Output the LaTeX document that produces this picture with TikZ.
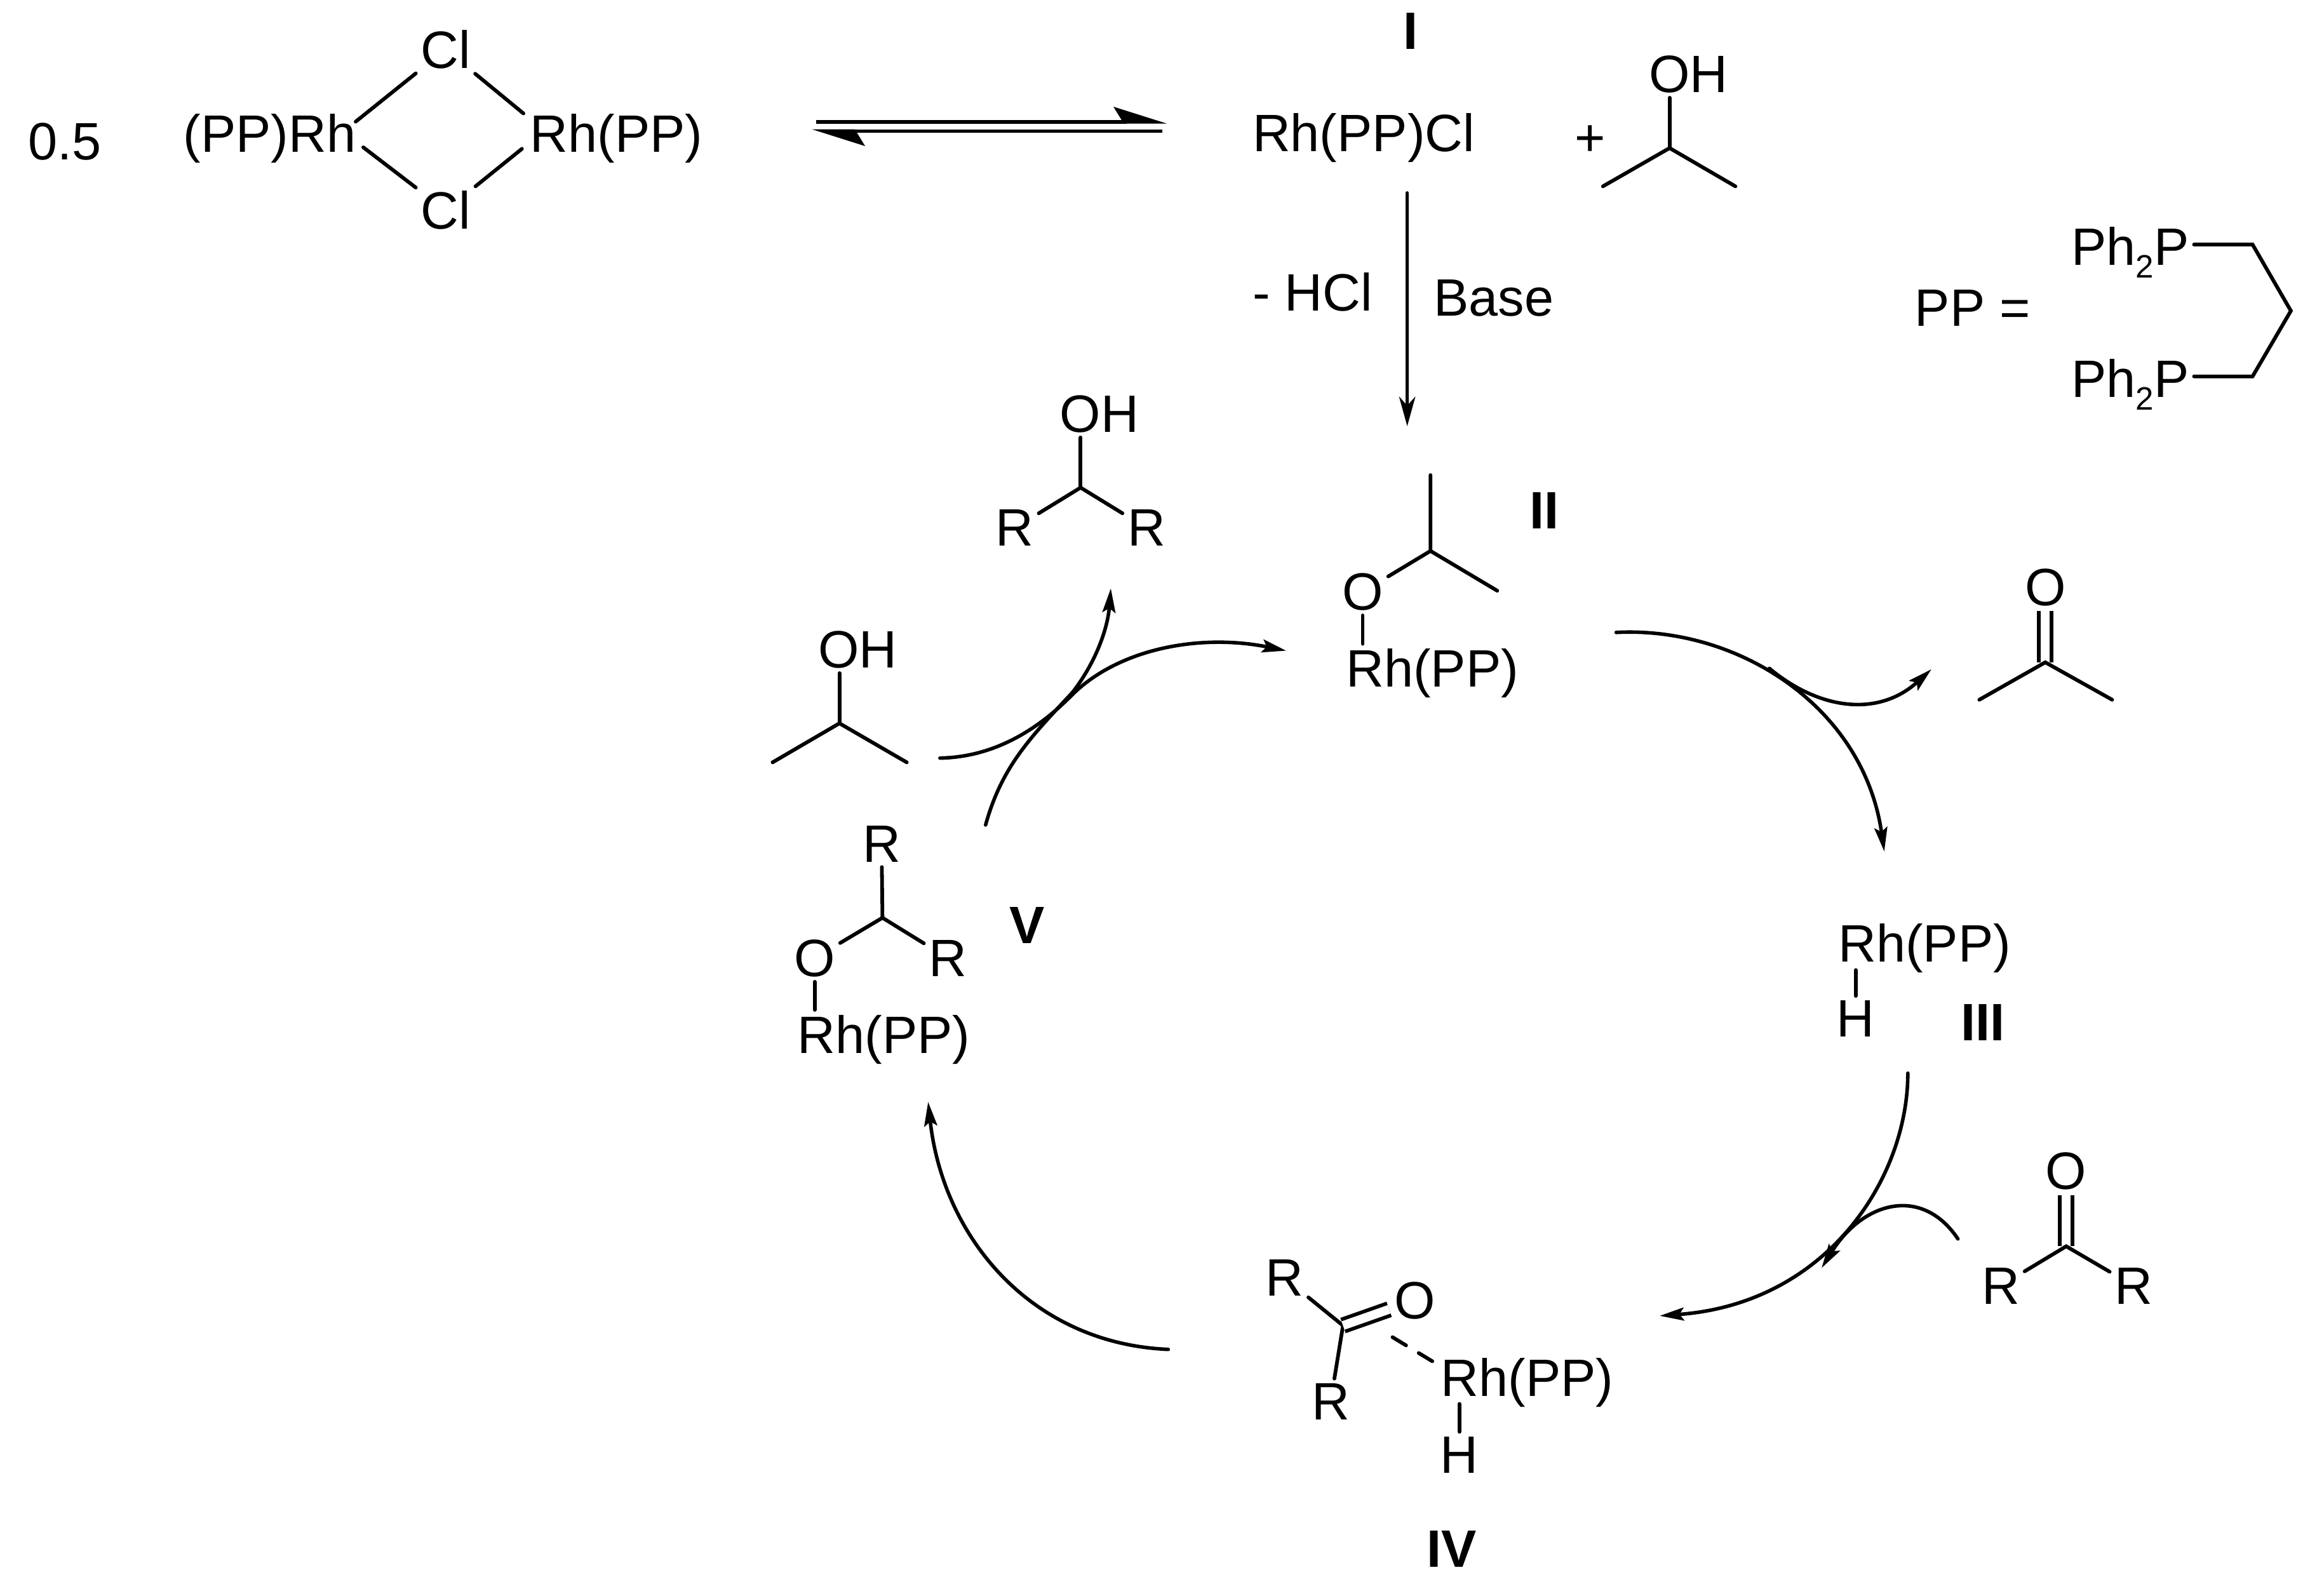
\documentclass[tikz,border=0pt]{standalone}
\usepackage{fontspec}
\setmainfont{Liberation Sans}
\usetikzlibrary{arrows.meta}
\newcommand{\phtwop}{Ph\raisebox{-0.24em}{\fontsize{11}{10}\selectfont 2}P}
\tikzset{
  atom/.style={anchor=base,inner sep=1.5pt,font=\fontsize{17.85}{20}\selectfont},
  lab/.style={anchor=base,inner sep=1.5pt,font=\fontsize{17.85}{20}\selectfont\bfseries},
  bond/.style={line width=1.25pt,line cap=round},
  dblbond/.style={line width=1.25pt,double,double distance=3pt},
  rxn/.style={line width=1.2pt,line cap=round,-{Stealth[length=8.2pt,width=4.4pt,inset=1.5pt]}},
  bigrxn/.style={line width=1.2pt,line cap=round,-{Stealth[length=10pt,width=5.5pt,inset=3pt]}},
  eqarrow/.style={line width=1.25pt,-{Stealth[harpoon,length=16pt,width=10pt,inset=3pt]}},
}
\begin{document}
\begin{tikzpicture}[x=0.5pt,y=-0.5pt]
\useasboundingbox (0,0) rectangle (1568,1083);
%%%% dimer
\node[atom] (half) at (44,108.5) {0.5};
\node[atom] (rhL) at (183,103.2) {(PP)Rh};
\node[atom] (rhR) at (418.5,103.2) {Rh(PP)};
\node[atom] (clT) at (302.5,46.3) {Cl};
\node[atom] (clB) at (302.5,155.6) {Cl};
\coordinate (rhLt) at (241.4,82.6);
\coordinate (rhLb) at (246.6,100);
\coordinate (rhRt) at (355.3,77);
\coordinate (rhRb) at (354.3,101);
\draw[bond] (clT) -- (rhLt);
\draw[bond] (clT) -- (rhRt);
\draw[bond] (clB) -- (rhLb);
\draw[bond] (clB) -- (rhRb);
%%%% equilibrium
\coordinate (eqa) at (554,82.6);
\coordinate (eqb) at (792,82.6);
\coordinate (eqc) at (789,89);
\coordinate (eqd) at (551,89);
\draw[eqarrow] (eqa) -- (eqb);
\draw[eqarrow] (eqc) -- (eqd);
%%%% I and isopropanol
\node[lab] (lI) at (957.5,33.2) {I};
\node[atom] (rhI) at (925.6,102.7) {Rh(PP)Cl};
\node[atom] (plus) at (1079.4,106) {+};
\node[atom] (ohA) at (1146,62.6) {OH};
\coordinate (cA) at (1133.3,100.5);
\coordinate (meAl) at (1088,126.5);
\coordinate (meAr) at (1178,126.5);
\draw[bond] (cA |- ohA.south) -- (cA);
\draw[bond] (meAl) -- (cA) -- (meAr);
%%%% base step
\coordinate (stepa) at (955.2,131);
\coordinate (stepb) at (955.2,289.3);
\draw[bigrxn] (stepa) -- (stepb);
\node[atom] (hcl) at (891,211.2) {- HCl};
\node[atom] (base) at (1014,214.4) {Base};
%%%% ligand
\node[atom] (ppeq) at (1339,221.3) {PP =};
\node[atom] (phT) at (1446,180.2) {\phtwop};
\node[atom] (phB) at (1446,269.7) {\phtwop};
\coordinate (chT) at (1529,166);
\coordinate (chM) at (1555,211);
\coordinate (chB) at (1529,255.5);
\draw[bond] (phT.east |- chT) -- (chT) -- (chM) -- (chB) -- (phB.east |- chB);
%%%% II
\node[lab] (lII) at (1048.3,358.8) {II};
\node[atom] (oII) at (925,414) {O};
\node[atom] (rhII) at (972.3,466.3) {Rh(PP)};
\coordinate (cII) at (971,374);
\coordinate (meIIt) at (971,322.5);
\coordinate (meIIr) at (1016.3,401);
\draw[bond] (meIIt) -- (cII) -- (meIIr);
\draw[bond] (oII) -- (cII);
\draw[bond] (oII) -- (oII |- rhII.north);
%%%% acetone
\node[atom] (oAc) at (1388.3,411) {O};
\coordinate (cAc) at (1388.3,449.6);
\coordinate (meAcl) at (1343.5,475);
\coordinate (meAcr) at (1433.7,475);
\draw[dblbond] (oAc) -- (cAc);
\draw[bond] (meAcl) -- (cAc) -- (meAcr);
%%%% III
\node[atom] (rhIII) at (1306.4,652.8) {Rh(PP)};
\node[atom] (hIII) at (1259.6,704) {H};
\node[lab] (lIII) at (1346,706.3) {III};
\coordinate (rhIIIh) at (1259.6,658.5);
\draw[bond] (rhIIIh) -- (hIII);
%%%% ketone
\node[atom] (oKe) at (1402.5,807.4) {O};
\node[atom] (rKel) at (1358,885.1) {R};
\node[atom] (rKer) at (1448.3,885.1) {R};
\coordinate (cKe) at (1402.5,846);
\draw[dblbond] (oKe) -- (cKe);
\draw[bond] (rKel) -- (cKe) -- (rKer);
%%%% IV
\node[atom] (rIVt) at (871.8,879.7) {R};
\node[atom] (rIVb) at (903.2,963.8) {R};
\node[atom] (oIV) at (960.2,895) {O};
\node[atom] (rhIV) at (1036.7,948) {Rh(PP)};
\node[atom] (hIV) at (990.6,999.9) {H};
\node[lab] (lIV) at (985.4,1063.9) {IV};
\coordinate (cIV) at (911.6,899.8);
\coordinate (dasha) at (945.2,907.7);
\coordinate (dashb) at (973.3,924.7);
\coordinate (rhIVh) at (990.6,953);
\draw[bond] (rIVt) -- (cIV) -- (rIVb);
\draw[dblbond] (oIV) -- (cIV);
\draw[bond,dash pattern=on 5.4pt off 5pt] (dasha) -- (dashb);
\draw[bond] (rhIVh) -- (hIV);
%%%% V
\node[atom] (rVt) at (598.4,585.2) {R};
\node[atom] (rVr) at (643.4,662.7) {R};
\node[atom] (oV) at (553,662.7) {O};
\node[atom] (rhV) at (600,714.8) {Rh(PP)};
\node[lab] (lV) at (697,640.3) {V};
\coordinate (cV) at (599,623);
\draw[bond] (rVt) -- (cV);
\draw[bond] (oV) -- (cV) -- (rVr);
\draw[bond] (oV) -- (oV |- rhV.north);
%%%% alcohol product
\node[atom] (ohP) at (746.3,293.2) {OH};
\node[atom] (rPl) at (688.8,370.7) {R};
\node[atom] (rPr) at (778.2,370.7) {R};
\coordinate (cP) at (733.5,331);
\draw[bond] (cP |- ohP.south) -- (cP);
\draw[bond] (rPl) -- (cP) -- (rPr);
%%%% isopropanol in cycle
\node[atom] (ohC) at (582.3,453.2) {OH};
\coordinate (cC) at (569.8,491);
\coordinate (meCl) at (524.4,517.5);
\coordinate (meCr) at (615.5,517.5);
\draw[bond] (cC |- ohC.south) -- (cC);
\draw[bond] (meCl) -- (cC) -- (meCr);
%%%% cycle arrows
\draw[rxn] (1097,429.3) .. controls (1180,425) and (1265,480) .. (1279,578);
\draw[rxn] (1201,453.7) .. controls (1235,482) and (1275,487) .. (1311,454.3);
\draw[rxn] (1295,728.5) .. controls (1295,800) and (1240,885) .. (1126.6,893.2);
\draw[rxn] (1329,841) .. controls (1305,805) and (1265,815) .. (1236.5,860.7);
\draw[rxn] (793,916) .. controls (700,912) and (640,840) .. (630,748);
\draw[rxn] (669,560) .. controls (680,520) and (700,500) .. (728,470) .. controls (745,448) and (752,425) .. (754,399.4);
\draw[rxn] (638,514.6) .. controls (672,514) and (702,498) .. (728,471.4) .. controls (760,440) and (815,430) .. (873,441.7);
\end{tikzpicture}
\end{document}
